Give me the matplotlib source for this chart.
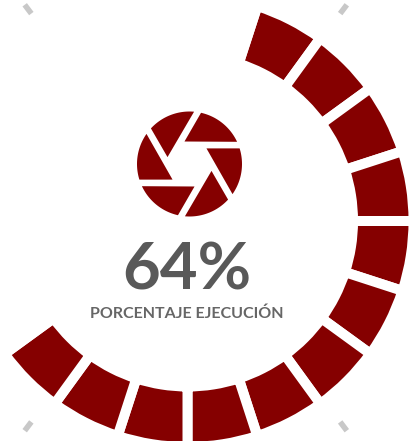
#!/usr/bin/env python3
import numpy as np
import matplotlib; matplotlib.use("Agg")
import matplotlib.pyplot as plt

W,H=413,441
total_segments=20
filled_segments=12
tick_angles=[37.1,142.9,217.1,322.9]  # clockwise from top, degrees
label_value="64%"
label_name="PORCENTAJE EJECUCIÓN"
RED="#850000"
cx,cy=187.5,H-221

fig=plt.figure(figsize=(W/100,H/100),dpi=100)
ax=fig.add_axes([0,0,1,1])

# ring: white edges make the constant width gaps
vals=[1]*filled_segments+[total_segments-filled_segments]
cols=[RED]*filled_segments+["none"]
ax.pie(vals,colors=cols,center=(cx,cy),radius=226,startangle=72,counterclock=False,
  wedgeprops=dict(width=60.5,edgecolor="white",linewidth=7.2,joinstyle="miter"))

# grey ticks outside the ring
tx,ty=185.75,H-217.75
for a in tick_angles:
    t=np.radians(a)
    r=np.array([256,267])
    ax.plot(tx+r*np.sin(t),ty+r*np.cos(t),color="#c8c8c8",lw=4,solid_capstyle="butt")

# aperture icon, one blade rotated six times
ix,iy,R=189.5,H-164,52.5
for k in range(6):
    a=np.radians(np.linspace(-35,17.3,30)-60*k)
    tip=np.radians(42.6-60*k)
    xs=np.r_[0.439*np.cos(tip),np.cos(a)]
    ys=np.r_[0.439*np.sin(tip),np.sin(a)]
    ax.fill(ix+R*xs,iy+R*ys,color=RED,lw=0)

ax.text(186.5,H-290,label_value,ha="center",va="baseline",fontsize=47,
  family="Lato",weight="bold",color="#595959")
ax.text(186.5,H-318.5,label_name,ha="center",va="baseline",fontsize=11.5,
  family="Lato",weight="bold",color="#666666")

ax.set_xlim(0,W); ax.set_ylim(0,H); ax.set_aspect("auto"); ax.axis("off")
fig.savefig("out.png",dpi=100,facecolor="white")
